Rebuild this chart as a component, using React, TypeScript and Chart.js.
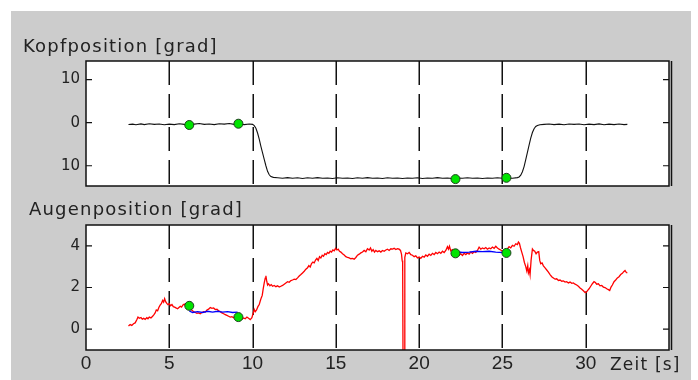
import React, { useEffect, useRef } from 'react';
import { Chart, registerables } from 'chart.js';

Chart.register(...registerables);

// Time axis (seconds)
const timeTicks = [0, 5, 10, 15, 20, 25, 30];
const gridTimes = [5, 10, 15, 20, 25, 30];

// Head position [deg]
const headTicks = [-10, 0, 10];
const headTime = [
  2.55, 2.8, 3.0, 3.3, 3.5, 3.8, 4.1, 4.4, 4.7, 5.0, 5.3, 5.6, 5.9, 6.2, 6.5, 6.8, 7.1, 7.4, 7.7, 8.0,
  8.3, 8.6, 8.9, 9.2, 9.5, 9.8, 10.0, 10.1, 10.2, 10.3, 10.4, 10.5, 10.6, 10.7, 10.8, 10.9, 11.0, 11.1,
  11.25, 11.5, 11.8, 12.1, 12.4, 12.7, 13.0, 13.3, 13.6, 13.9, 14.2, 14.5, 14.8, 15.1, 15.4, 15.7, 16.0,
  16.3, 16.6, 16.9, 17.2, 17.5, 17.8, 18.1, 18.4, 18.7, 19.0, 19.3, 19.6, 19.9, 20.2, 20.5, 20.8, 21.1,
  21.4, 21.7, 22.0, 22.3, 22.6, 22.9, 23.2, 23.5, 23.8, 24.1, 24.4, 24.7, 25.0, 25.3, 25.6, 25.9, 26.0,
  26.1, 26.2, 26.3, 26.4, 26.5, 26.6, 26.7, 26.8, 26.9, 27.0, 27.1, 27.25, 27.5, 27.8, 28.1, 28.4, 28.7,
  29.0, 29.3, 29.6, 29.9, 30.2, 30.5, 30.8, 31.1, 31.4, 31.7, 32.0, 32.3, 32.5,
];
const headAngle = [
  -0.45, -0.35, -0.5, -0.3, -0.45, -0.25, -0.4, -0.3, -0.5, -0.35, -0.45, -0.25, -0.4, -0.5, -0.35, -0.2, -0.4, -0.3, -0.45, -0.25,
  -0.35, -0.2, -0.4, -0.3, -0.45, -0.3, -0.4, -0.7, -1.3, -2.4, -3.8, -5.5, -7.0, -8.5, -10.0, -11.3, -12.1, -12.5,
  -12.7, -12.8, -12.9, -12.75, -12.9, -12.8, -12.95, -12.8, -12.9, -12.75, -12.9, -12.85, -12.95, -12.8, -12.9, -12.85, -12.95,
  -12.8, -12.9, -12.75, -12.9, -12.85, -12.95, -12.8, -12.9, -12.85, -12.95, -12.85, -12.9, -12.8, -12.95, -12.85, -12.9, -12.75,
  -12.9, -12.85, -12.95, -12.85, -12.9, -12.8, -12.9, -12.85, -12.95, -12.85, -12.9, -12.8, -12.9, -12.85, -12.9, -12.75, -12.6,
  -12.2, -11.4, -10.2, -8.6, -6.9, -5.2, -3.6, -2.3, -1.4, -0.9, -0.65, -0.5, -0.4, -0.3, -0.45, -0.35, -0.5,
  -0.3, -0.4, -0.3, -0.5, -0.35, -0.45, -0.3, -0.5, -0.35, -0.45, -0.3, -0.45, -0.4,
];

// Eye position [deg]
const eyeTicks = [0, 2, 4];
const eyeTime = [
  2.55, 2.65, 2.75, 2.85, 2.95, 3.05, 3.12, 3.2, 3.3, 3.38, 3.46, 3.55, 3.65, 3.72, 3.8, 3.9, 4.0, 4.08, 4.15, 4.22,
  4.3, 4.38, 4.45, 4.52, 4.6, 4.66, 4.72, 4.78, 4.85, 4.92, 5.0, 5.08, 5.16, 5.24, 5.32, 5.4, 5.5, 5.58, 5.66, 5.74,
  5.82, 5.9, 5.98, 6.06, 6.14, 6.22, 6.3, 6.38, 6.46, 6.56, 6.66, 6.76, 6.86, 6.96, 7.06, 7.16, 7.26, 7.36, 7.46, 7.56,
  7.66, 7.76, 7.86, 7.96, 8.06, 8.16, 8.26, 8.36, 8.46, 8.56, 8.66, 8.76, 8.86, 8.96, 9.06, 9.16, 9.26, 9.36, 9.46, 9.56,
  9.66, 9.76, 9.86, 9.96, 10.04, 10.1, 10.16, 10.24, 10.32, 10.4, 10.46, 10.52, 10.58, 10.64, 10.7, 10.76, 10.8, 10.85, 10.9, 10.96,
  11.04, 11.12, 11.2, 11.3, 11.4, 11.5, 11.6, 11.7, 11.8, 11.9, 12.0, 12.1, 12.2, 12.3, 12.4, 12.5, 12.6, 12.7, 12.8, 12.9,
  13.0, 13.1, 13.2, 13.3, 13.38, 13.46, 13.54, 13.62, 13.7, 13.78, 13.86, 13.94, 14.02, 14.1, 14.18, 14.26, 14.34, 14.42, 14.5, 14.58,
  14.66, 14.74, 14.82, 14.9, 14.98, 15.06, 15.14, 15.22, 15.3, 15.4, 15.5, 15.6, 15.7, 15.8, 15.9, 16.0, 16.1, 16.2, 16.3, 16.4,
  16.5, 16.6, 16.7, 16.8, 16.9, 17.0, 17.08, 17.16, 17.24, 17.32, 17.4, 17.5, 17.6, 17.7, 17.8, 17.9, 18.0, 18.1, 18.2, 18.3,
  18.4, 18.5, 18.6, 18.7, 18.8, 18.88, 18.94, 18.98, 19.01, 19.04, 19.1, 19.14, 19.2, 19.3, 19.4, 19.5, 19.6, 19.7, 19.8, 19.9,
  20.0, 20.1, 20.2, 20.3, 20.4, 20.5, 20.6, 20.7, 20.8, 20.9, 21.0, 21.1, 21.2, 21.3, 21.4, 21.5, 21.6, 21.7, 21.76, 21.82,
  21.9, 22.0, 22.1, 22.2, 22.3, 22.4, 22.5, 22.6, 22.7, 22.8, 22.9, 23.0, 23.1, 23.2, 23.3, 23.4, 23.5, 23.6, 23.7, 23.8,
  23.9, 24.0, 24.1, 24.2, 24.3, 24.4, 24.5, 24.6, 24.7, 24.8, 24.9, 25.0, 25.1, 25.2, 25.3, 25.4, 25.5, 25.6, 25.7, 25.8,
  25.9, 25.96, 26.02, 26.08, 26.16, 26.24, 26.32, 26.4, 26.46, 26.52, 26.56, 26.62, 26.66, 26.72, 26.8, 26.86, 26.94, 27.02, 27.1, 27.18,
  27.24, 27.3, 27.38, 27.46, 27.56, 27.66, 27.76, 27.86, 27.96, 28.06, 28.16, 28.26, 28.36, 28.46, 28.56, 28.66, 28.76, 28.86, 28.96, 29.06,
  29.16, 29.26, 29.36, 29.46, 29.56, 29.66, 29.76, 29.86, 29.96, 30.04, 30.12, 30.2, 30.3, 30.4, 30.5, 30.58, 30.66, 30.76, 30.86, 30.96,
  31.06, 31.16, 31.26, 31.36, 31.44, 31.52, 31.6, 31.7, 31.8, 31.9, 32.0, 32.1, 32.2, 32.28, 32.36, 32.44, 32.5,
];
const eyeAngle = [
  0.15, 0.22, 0.18, 0.26, 0.3, 0.45, 0.58, 0.52, 0.56, 0.48, 0.52, 0.47, 0.55, 0.5, 0.58, 0.54, 0.62, 0.7, 0.78, 0.92,
  0.88, 1.05, 1.15, 1.22, 1.38, 1.3, 1.46, 1.32, 1.24, 1.18, 1.22, 1.12, 1.18, 1.08, 1.06, 1.02, 0.98, 1.04, 1.1, 1.06,
  1.16, 1.2, 1.14, 1.18, 1.12, 1.06, 0.95, 0.9, 0.84, 0.8, 0.76, 0.78, 0.74, 0.8, 0.84, 0.82, 0.92, 0.96, 1.04, 1.0,
  1.02, 0.94, 0.96, 0.88, 0.84, 0.78, 0.74, 0.7, 0.66, 0.62, 0.58, 0.6, 0.55, 0.62, 0.58, 0.56, 0.52, 0.48, 0.54, 0.5,
  0.58, 0.52, 0.46, 0.55, 0.78, 0.95, 0.84, 0.92, 1.08, 1.18, 1.35, 1.5, 1.62, 1.95, 2.22, 2.45, 2.56, 2.3, 2.12, 2.18,
  2.08, 2.14, 2.06, 2.1, 2.04, 2.08, 2.02, 2.06, 2.1, 2.16, 2.22, 2.28, 2.25, 2.33, 2.36, 2.4, 2.38, 2.46, 2.55, 2.62,
  2.7, 2.78, 2.88, 2.95, 3.05, 2.98, 3.15, 3.22, 3.18, 3.32, 3.4, 3.3, 3.48, 3.42, 3.55, 3.5, 3.62, 3.58, 3.68, 3.64,
  3.74, 3.7, 3.8, 3.76, 3.88, 3.8, 3.84, 3.74, 3.7, 3.62, 3.56, 3.48, 3.44, 3.42, 3.38, 3.4, 3.36, 3.44, 3.55, 3.6,
  3.66, 3.7, 3.78, 3.72, 3.86, 3.8, 3.9, 3.74, 3.82, 3.7, 3.78, 3.72, 3.76, 3.7, 3.78, 3.74, 3.8, 3.84, 3.78, 3.86,
  3.84, 3.88, 3.82, 3.86, 3.84, 3.78, 3.6, 3.3, 3.2, -3, -3, 3.45, 3.66, 3.62, 3.68, 3.58, 3.55, 3.48, 3.52, 3.42,
  3.46, 3.4, 3.5, 3.46, 3.56, 3.5, 3.6, 3.54, 3.64, 3.58, 3.68, 3.62, 3.7, 3.64, 3.74, 3.68, 3.78, 3.96, 3.84, 3.98,
  3.76, 3.82, 3.7, 3.62, 3.66, 3.56, 3.62, 3.54, 3.64, 3.58, 3.66, 3.6, 3.7, 3.64, 3.72, 3.68, 3.78, 3.94, 3.84, 3.9,
  3.86, 3.92, 3.84, 3.9, 3.86, 3.94, 3.88, 3.98, 3.9, 3.84, 3.8, 3.74, 3.7, 3.66, 3.86, 3.96, 3.9, 4.02, 3.98, 4.1,
  4.06, 4.18, 4.12, 3.92, 3.7, 3.48, 3.2, 3.0, 2.8, 3.05, 2.7, 2.85, 2.62, 3.3, 3.85, 3.78, 3.74, 3.62, 3.7, 3.72,
  3.3, 3.14, 3.18, 3.04, 2.94, 2.84, 2.74, 2.62, 2.52, 2.46, 2.4, 2.42, 2.34, 2.36, 2.3, 2.32, 2.26, 2.28, 2.22, 2.26,
  2.2, 2.22, 2.16, 2.12, 2.06, 1.98, 1.92, 1.84, 1.76, 1.78, 1.86, 1.94, 2.06, 2.18, 2.28, 2.24, 2.16, 2.18, 2.08, 2.1,
  2.02, 2.0, 1.94, 1.9, 1.86, 2.02, 2.12, 2.28, 2.36, 2.46, 2.52, 2.62, 2.68, 2.76, 2.82, 2.72, 2.7,
];

// Fitted eye segments between the marked instants
const fitTimeA = [6.2, 6.4, 6.7, 7.0, 7.3, 7.6, 7.9, 8.2, 8.5, 8.8, 9.1];
const fitAngleA = [0.88, 0.8, 0.84, 0.8, 0.86, 0.82, 0.86, 0.82, 0.84, 0.8, 0.82];
const fitTimeB = [22.18, 22.6, 23.0, 23.4, 23.8, 24.2, 24.6, 25.0, 25.2];
const fitAngleB = [3.72, 3.68, 3.7, 3.74, 3.72, 3.74, 3.7, 3.68, 3.68];

// Marked instants
const markerTime = [6.2, 9.15, 22.18, 25.24];
const headMarker = [-0.55, -0.25, -13.1, -12.8];
const eyeMarker = [1.12, 0.58, 3.64, 3.66];

const toPoints = (xs: number[], ys: number[]) => xs.map((x, i) => ({ x, y: ys[i] }));

const INK = '#111111';
const TEXT = '#222222';

// Plot frame: white area, dashed vertical grid, box and inward tick marks
const framePlugin = {
  id: 'matFrame',
  beforeDraw(chart: any) {
    const { ctx, chartArea: a } = chart;
    ctx.save();
    ctx.fillStyle = '#ffffff';
    ctx.fillRect(a.left, a.top, a.right - a.left, a.bottom - a.top);
    ctx.restore();
  },
  beforeDatasetsDraw(chart: any) {
    const { ctx, chartArea: a, scales } = chart;
    ctx.save();
    ctx.strokeStyle = INK;
    ctx.lineWidth = 1.5;
    ctx.setLineDash([24, 9]);
    for (const t of gridTimes) {
      const px = Math.round(scales.x.getPixelForValue(t)) + 0.25;
      ctx.beginPath();
      ctx.moveTo(px, a.top);
      ctx.lineTo(px, a.bottom);
      ctx.stroke();
    }
    ctx.restore();
  },
  afterDatasetsDraw(chart: any) {
    const { ctx, chartArea: a, scales } = chart;
    ctx.save();
    ctx.strokeStyle = INK;
    ctx.lineWidth = 1.5;
    ctx.setLineDash([]);
    ctx.strokeRect(a.left, a.top, a.right - a.left, a.bottom - a.top);
    ctx.beginPath();
    ctx.moveTo(a.right + 2.5, a.top);
    ctx.lineTo(a.right + 2.5, a.bottom);
    ctx.stroke();
    ctx.lineWidth = 1.2;
    for (const tk of scales.y.ticks) {
      const py = scales.y.getPixelForValue(tk.value);
      ctx.beginPath();
      ctx.moveTo(a.left, py);
      ctx.lineTo(a.left + 6, py);
      ctx.moveTo(a.right, py);
      ctx.lineTo(a.right - 6, py);
      ctx.stroke();
    }
    ctx.restore();
  },
};

const yTickStyle = {
  padding: 6,
  color: TEXT,
  font: { family: 'DejaVu Sans', size: 15 },
};

// fixed axis widths/heights, no extra room reserved for edge labels
const fixWidth = (s: any) => {
  s.width = 75;
  s.paddingTop = 0;
  s.paddingBottom = 0;
};
const fixHeight = (s: any) => {
  s.height = 30;
  s.paddingLeft = 0;
  s.paddingRight = 0;
};

function lineSet(xs: number[], ys: number[], color: string, width: number) {
  return {
    data: toPoints(xs, ys),
    showLine: true,
    borderColor: color,
    borderWidth: width,
    pointRadius: 0,
    pointHoverRadius: 0,
    fill: false,
  };
}

function markerSet(xs: number[], ys: number[]) {
  return {
    data: toPoints(xs, ys),
    showLine: false,
    pointRadius: 4.5,
    pointBackgroundColor: '#00e400',
    pointBorderColor: '#1f3f1f',
    pointBorderWidth: 1,
  };
}

export default function App() {
  const headRef = useRef<HTMLCanvasElement | null>(null);
  const eyeRef = useRef<HTMLCanvasElement | null>(null);

  useEffect(() => {
    const common = {
      animation: false as const,
      responsive: false,
      devicePixelRatio: 1,
      events: [] as any[],
    };

    const headChart = new Chart(headRef.current!, {
      type: 'scatter',
      data: {
        datasets: [
          markerSet(markerTime, headMarker),
          lineSet(headTime, headAngle, INK, 1.1),
        ] as any,
      },
      options: {
        ...common,
        layout: { padding: { top: 6, right: 22, bottom: 9, left: 0 } },
        plugins: { legend: { display: false }, tooltip: { enabled: false } },
        scales: {
          x: { type: 'linear', min: 0, max: 35, display: false },
          y: {
            type: 'linear',
            min: -14.7,
            max: 14.3,
            afterBuildTicks: (s: any) => {
              s.ticks = headTicks.map((value) => ({ value }));
            },
            afterFit: fixWidth,
            grid: { display: false, drawTicks: false },
            border: { display: false },
            // this axis prints magnitudes only
            ticks: { ...yTickStyle, callback: (v: any) => String(Math.abs(Number(v))) },
          },
        },
      } as any,
      plugins: [framePlugin],
    });

    const eyeChart = new Chart(eyeRef.current!, {
      type: 'scatter',
      data: {
        datasets: [
          markerSet(markerTime, eyeMarker),
          lineSet(fitTimeA, fitAngleA, '#0000ff', 1.3),
          lineSet(fitTimeB, fitAngleB, '#0000ff', 1.3),
          lineSet(eyeTime, eyeAngle, '#ff0000', 1.3),
        ] as any,
      },
      options: {
        ...common,
        layout: { padding: { top: 10, right: 22, bottom: 0, left: 0 } },
        plugins: { legend: { display: false }, tooltip: { enabled: false } },
        scales: {
          x: {
            type: 'linear',
            min: 0,
            max: 35,
            afterBuildTicks: (s: any) => {
              s.ticks = timeTicks.map((value) => ({ value }));
            },
            afterFit: fixHeight,
            grid: { display: false, drawTicks: false },
            border: { display: false },
            ticks: {
              padding: 2,
              color: TEXT,
              maxRotation: 0,
              font: { family: 'Liberation Sans', size: 19 },
              callback: (v: any) => String(v),
            },
          },
          y: {
            type: 'linear',
            min: -1,
            max: 5,
            afterBuildTicks: (s: any) => {
              s.ticks = eyeTicks.map((value) => ({ value }));
            },
            afterFit: fixWidth,
            grid: { display: false, drawTicks: false },
            border: { display: false },
            ticks: { ...yTickStyle, callback: (v: any) => String(v) },
          },
        },
      } as any,
      plugins: [framePlugin],
    });

    return () => {
      headChart.destroy();
      eyeChart.destroy();
    };
  }, []);

  const label = (left: number, top: number, size: number): React.CSSProperties => ({
    position: 'absolute',
    left,
    top,
    fontFamily: 'DejaVu Sans',
    fontSize: size,
    lineHeight: `${size}px`,
    letterSpacing: '1.2px',
    color: TEXT,
    whiteSpace: 'nowrap',
  });

  return (
    <div style={{ position: 'absolute', left: 0, top: 0, width: 698, height: 380, background: '#ffffff', overflow: 'hidden' }}>
      <div style={{ position: 'absolute', left: 11, top: 11, width: 680, height: 369, background: '#cccccc' }} />
      <canvas ref={headRef} width={680} height={140} style={{ position: 'absolute', left: 11, top: 55 }} />
      <canvas ref={eyeRef} width={680} height={165} style={{ position: 'absolute', left: 11, top: 215 }} />
      <div style={label(23, 36.5, 18)}>Kopfposition [grad]</div>
      <div style={label(29, 199.5, 18)}>Augenposition [grad]</div>
      <div style={label(610, 355.6, 17)}>Zeit [s]</div>
    </div>
  );
}
